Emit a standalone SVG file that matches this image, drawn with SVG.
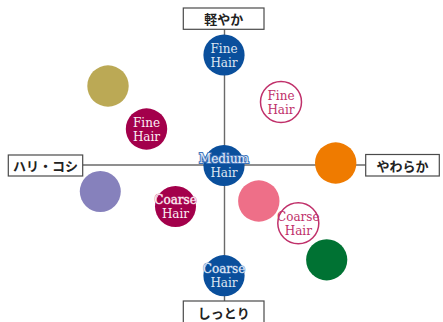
<svg xmlns="http://www.w3.org/2000/svg" width="443" height="322" viewBox="0 0 443 322">
<style>
.box{fill:#fff;stroke:#4a4a4a;stroke-width:1.2}
.lbl{font-family:"Noto Sans CJK JP","Noto Sans",sans-serif;font-weight:bold;font-size:13px;fill:#222;text-anchor:middle}
.ax{stroke:#6a6a6a;stroke-width:1.4;fill:none}
.c{font-family:"DejaVu Serif","Liberation Serif",serif;font-size:12px;text-anchor:middle}
.blue{fill:#0a4f9c}
.bt{fill:#dfe7f3}
.crim{fill:#a3004b}
.ct{fill:#fbeef4}
.ring{fill:#fff;stroke:#c0306a;stroke-width:1.5}
.rt{fill:#c0306a}
</style>
<g id="connectors">
<line class="ax" x1="224.5" y1="29" x2="224.5" y2="301"/>
<line class="ax" x1="82.7" y1="165" x2="365.7" y2="165"/>
</g>
<g id="top-label"><rect class="box" x="183.3" y="8" width="80.7" height="21.3"/><text class="lbl" x="223.7" y="24">軽やか</text></g>
<g id="bottom-label"><rect class="box" x="183.3" y="301" width="80.7" height="23"/><text class="lbl" x="223.7" y="318">しっとり</text></g>
<g id="left-label"><rect class="box" x="8.3" y="155" width="74.4" height="21"/><text class="lbl" x="45.5" y="170.5">ハリ・コシ</text></g>
<g id="right-label"><rect class="box" x="365.7" y="154.5" width="73.6" height="21.5"/><text class="lbl" x="402.5" y="170.5">やわらか</text></g>
<g id="blue-fine"><circle class="blue" cx="224" cy="55" r="20.6"/><text class="c bt" x="224" y="52.5">Fine</text><text class="c bt" x="224" y="66.5">Hair</text></g>
<g id="blue-medium"><circle class="blue" cx="224" cy="165.5" r="20.6"/><text class="c" x="224" y="163" fill="#e6edf8" stroke="#3f74bb" stroke-width="2" paint-order="stroke">Medium</text><text class="c bt" x="224" y="177">Hair</text></g>
<g id="blue-coarse"><circle class="blue" cx="224" cy="275.7" r="20.6"/><text class="c" x="224" y="273" fill="#dfe7f3" stroke="#5f8cc8" stroke-width="0.8" paint-order="stroke">Coarse</text><text class="c bt" x="224" y="287">Hair</text></g>
<g id="olive"><circle cx="108" cy="86" r="20.7" fill="#bba955"/></g>
<g id="crimson-fine"><circle class="crim" cx="146.5" cy="129" r="20.7"/><text class="c ct" x="146.5" y="126.5">Fine</text><text class="c ct" x="146.5" y="140.5">Hair</text></g>
<g id="ring-fine"><circle class="ring" cx="281" cy="102" r="20.5"/><text class="c rt" x="281" y="99.5">Fine</text><text class="c rt" x="281" y="113.5">Hair</text></g>
<g id="orange"><circle cx="335.7" cy="163" r="20.7" fill="#ef7b00"/></g>
<g id="purple"><circle cx="100.3" cy="191.5" r="20.5" fill="#8681bc"/></g>
<g id="crimson-coarse"><circle class="crim" cx="175.5" cy="206.5" r="20.5"/><text class="c" x="175.5" y="204" fill="#fbeef4" stroke="#d77aa0" stroke-width="0.8" paint-order="stroke">Coarse</text><text class="c ct" x="175.5" y="218">Hair</text></g>
<g id="pink"><circle cx="258.8" cy="201" r="20.7" fill="#ee6f88"/></g>
<g id="ring-coarse"><circle class="ring" cx="298.3" cy="223.3" r="20.5"/><text class="c rt" x="298.3" y="220.8">Coarse</text><text class="c rt" x="298.3" y="234.8">Hair</text></g>
<g id="green"><circle cx="326.7" cy="259.8" r="20.6" fill="#007233"/></g>
</svg>
